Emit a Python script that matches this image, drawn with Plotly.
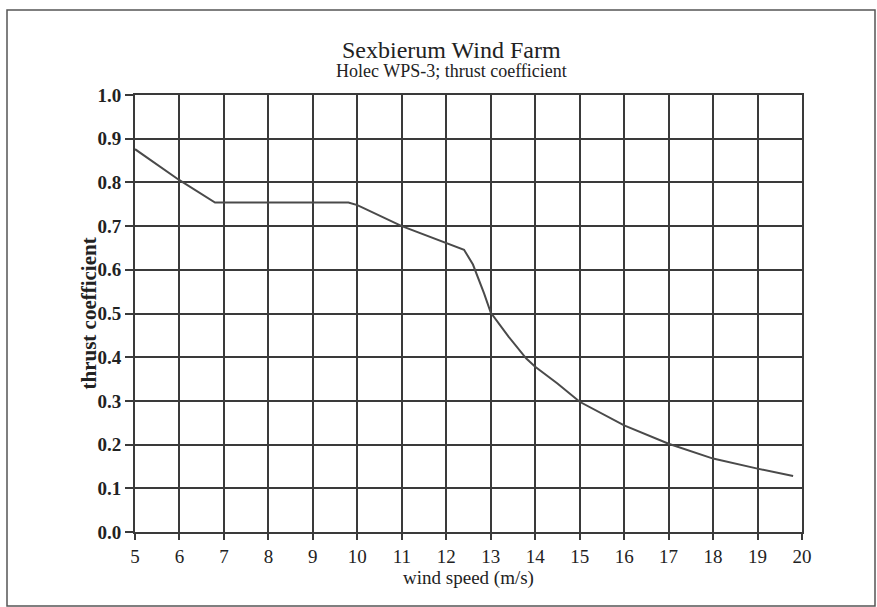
import plotly.graph_objects as go

wind_speed = [5.0, 6.0, 6.8, 9.8, 10.0, 11.0, 12.4, 12.6, 12.85, 13.0, 13.4, 13.8, 14.0, 14.5, 15.0, 16.0, 17.0, 18.0, 19.0, 19.8]
thrust_coef = [0.876, 0.805, 0.754, 0.754, 0.748, 0.700, 0.646, 0.612, 0.546, 0.502, 0.447, 0.397, 0.378, 0.340, 0.298, 0.244, 0.202, 0.168, 0.145, 0.128]

x_ticks = list(range(5, 21))
y_ticks = [round(i * 0.1, 1) for i in range(11)]
y_tick_text = [f"<b>{v:.1f}</b>" for v in y_ticks]

title_main = "Sexbierum Wind Farm"
title_sub = "Holec WPS-3; thrust coefficient"
x_title = "wind speed (m/s)"
y_title = "thrust coefficient"

grid_col = "#3a3a3a"
serif = "Liberation Serif, serif"

fig = go.Figure()
fig.add_trace(go.Scatter(x=wind_speed, y=thrust_coef, mode="lines",
                         line=dict(color="#4a4a4a", width=2), showlegend=False,
                         hoverinfo="skip"))

fig.update_layout(
    width=877, height=607,
    margin=dict(l=135, r=75, t=95, b=75),
    paper_bgcolor="white", plot_bgcolor="white",
    showlegend=False,
    font=dict(family=serif, color="#222222"),
)
fig.update_xaxes(range=[5, 20], tickvals=x_ticks, ticktext=[str(v) for v in x_ticks],
                 showgrid=True, gridcolor=grid_col, gridwidth=2,
                 showline=True, linecolor=grid_col, linewidth=2, mirror=True,
                 ticks="outside", ticklen=6, tickwidth=2, tickcolor=grid_col,
                 tickfont=dict(family=serif, size=19, color="#222222"), zeroline=False,
                 title=dict(text=x_title, font=dict(family=serif, size=19, color="#222222"), standoff=0))
fig.update_yaxes(range=[0, 1.0], tickvals=y_ticks, ticktext=y_tick_text,
                 showgrid=True, gridcolor=grid_col, gridwidth=2,
                 showline=True, linecolor=grid_col, linewidth=2, mirror=True,
                 ticks="outside", ticklen=8, tickwidth=2, tickcolor=grid_col,
                 tickfont=dict(family=serif, size=19, color="#222222"), zeroline=False)

fig.add_annotation(text=f"<b>{y_title}</b>", xref="paper", yref="paper",
                   x=(88 - 135) / 667, y=0.5, textangle=-90, showarrow=False,
                   font=dict(family=serif, size=21, color="#222222"),
                   xanchor="center", yanchor="middle")
fig.add_annotation(text=title_main, xref="paper", yref="paper", x=0.475, y=(532 - 50) / 437,
                   showarrow=False, font=dict(family=serif, size=24, color="#222222"),
                   xanchor="center", yanchor="middle")
fig.add_annotation(text=title_sub, xref="paper", yref="paper", x=0.475, y=(532 - 71) / 437,
                   showarrow=False, font=dict(family=serif, size=18, color="#222222"),
                   xanchor="center", yanchor="middle")

# outer frame
fig.add_shape(type="rect", xref="paper", yref="paper",
              x0=(7 - 135) / 667, x1=(875 - 135) / 667,
              y0=(532 - 606) / 437, y1=(532 - 10) / 437,
              line=dict(color="#555555", width=1.5), layer="below")

fig.write_html("out.html")
